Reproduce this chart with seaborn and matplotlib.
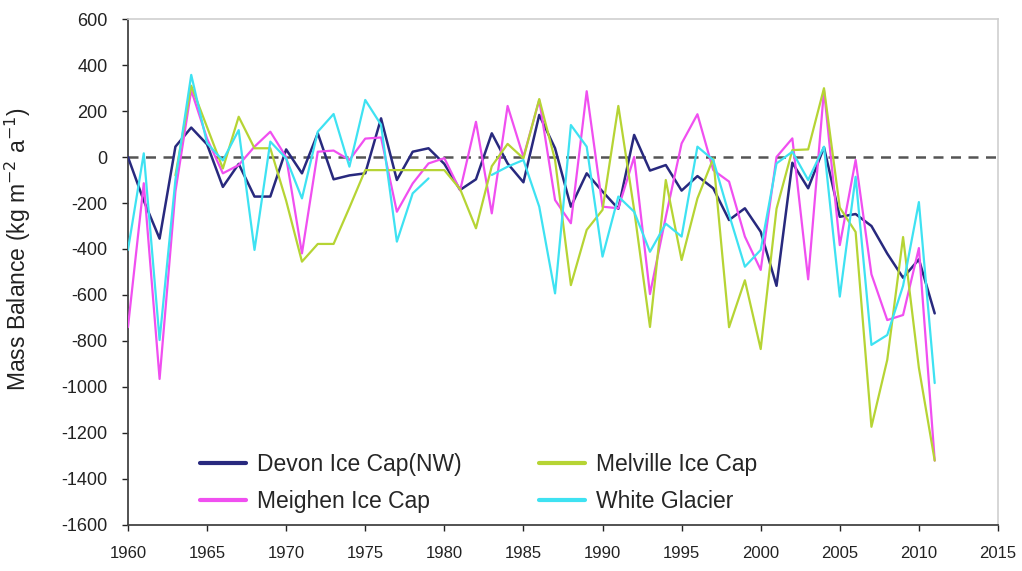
import numpy as np
import pandas as pd
import matplotlib
matplotlib.use("Agg")
import matplotlib.pyplot as plt
import seaborn as sns

years = list(range(1960, 2012))

devon = [0, -190, -355, 45, 128, 55, -130, -30, -172, -172,
         33, -71, 103, -97, -80, -71, 168, -100, 23, 38,
         -30, -143, -97, 103, -28, -110, 183, 38, -216, -71,
         -150, -225, 96, -59, -35, -146, -83, -136, -274, -223,
         -325, -560, -25, -136, 42, -260, -248, -300, -420, -525,
         -445, -680]

meighen = [-740, -114, -965, -150, 290, 80, -71, -35, 45, 110,
           0, -419, 23, 28, -13, 80, 85, -238, -115, -28,
           -5, -145, 153, -245, 222, 0, 248, -187, -288, 286,
           -216, -223, 0, -596, -260, 59, 186, -57, -107, -346,
           -491, 0, 81, -532, 291, -383, -13, -510, -709, -687,
           -396, -1320]

melville = [np.nan, np.nan, np.nan, -80, 310, 130, -50, 175, 38, 38,
            -190, -455, -378, -378, -220, -57, -57, -57, -57, -57,
            -57, -140, -310, -40, 57, -6, 252, -13, -557, -317,
            -230, 222, -230, -739, -100, -448, -180, -6, -740, -536,
            -835, -225, 30, 33, 299, -220, -326, -1173, -882, -348,
            -917, -1320]

white = [-404, 16, -796, -100, 357, 60, -15, 117, -404, 67,
         -6, -180, 110, 187, -42, 248, 140, -368, -158, -93,
         np.nan, np.nan, np.nan, -78, -42, -13, -216, -593, 139, 45,
         -433, -172, -238, -412, -290, -346, 45, -13, -250, -477,
         -404, -28, 23, -100, 45, -607, -86, -817, -774, -560,
         -196, -983]

series_names = ["Devon Ice Cap(NW)", "Meighen Ice Cap", "Melville Ice Cap", "White Glacier"]
series_values = [devon, meighen, melville, white]
series_colors = ["#28297e", "#f04ff0", "#b6d434", "#3ee2f2"]
series_widths = [1.8, 1.6, 1.6, 1.6]

x_ticks = list(range(1960, 2016, 5))
y_ticks = list(range(-1600, 601, 200))

sns.set_theme(style="white")
plt.rcParams["font.family"] = ["Liberation Sans", "DejaVu Sans"]
plt.rcParams["axes.unicode_minus"] = False

fig = plt.figure(figsize=(10.22, 5.71), dpi=100)
ax = fig.add_axes([0.1252, 0.0806, 0.8513, 0.8861])

# zero reference
ax.axhline(0, color="#555555", lw=1.8, ls=(0, (4, 3)), zorder=1)

handles = {}
for name, vals, col, lw in zip(series_names, series_values, series_colors, series_widths):
    df = pd.DataFrame({"year": years, "mb": vals})
    # split into contiguous runs so data gaps stay open
    grp = df["mb"].isna().cumsum()
    for _, seg in df.dropna().groupby(grp[df["mb"].notna()]):
        sns.lineplot(data=seg, x="year", y="mb", ax=ax, color=col, lw=lw,
                     estimator=None, sort=False, legend=False, zorder=3)
    handles[name] = plt.Line2D([], [], color=col, lw=3)

ax.set_xlim(1960, 2015)
ax.set_ylim(-1600, 600)
ax.set_xticks(x_ticks)
ax.set_yticks(y_ticks)
ax.set_xlabel("")
ax.set_ylabel("Mass Balance (kg m$^{-2}$ a$^{-1}$)", fontsize=16.5, color="#222222")
ax.yaxis.set_label_coords(-0.109, 0.545)
ax.tick_params(axis="x", labelsize=12, colors="#222222", direction="out",
               length=4.5, width=1, bottom=True, pad=10.5)
ax.tick_params(axis="y", labelsize=13, colors="#222222", direction="out",
               length=4.5, width=1, left=True, pad=10)

for side in ["left", "bottom"]:
    ax.spines[side].set_color("#444444")
    ax.spines[side].set_linewidth(1.3)
for side in ["top", "right"]:
    ax.spines[side].set_color("#cfcfcf")
    ax.spines[side].set_linewidth(1.2)

order = ["Devon Ice Cap(NW)", "Meighen Ice Cap", "Melville Ice Cap", "White Glacier"]
ax.legend([handles[n] for n in order], order, ncol=2, frameon=False,
          loc="upper left", bbox_to_anchor=(0.0828, 0.142), borderpad=0,
          borderaxespad=0, fontsize=16.5, handlelength=2.0, handletextpad=0.48,
          columnspacing=3.4, labelspacing=0.62)

fig.savefig("out.png", dpi=100)
